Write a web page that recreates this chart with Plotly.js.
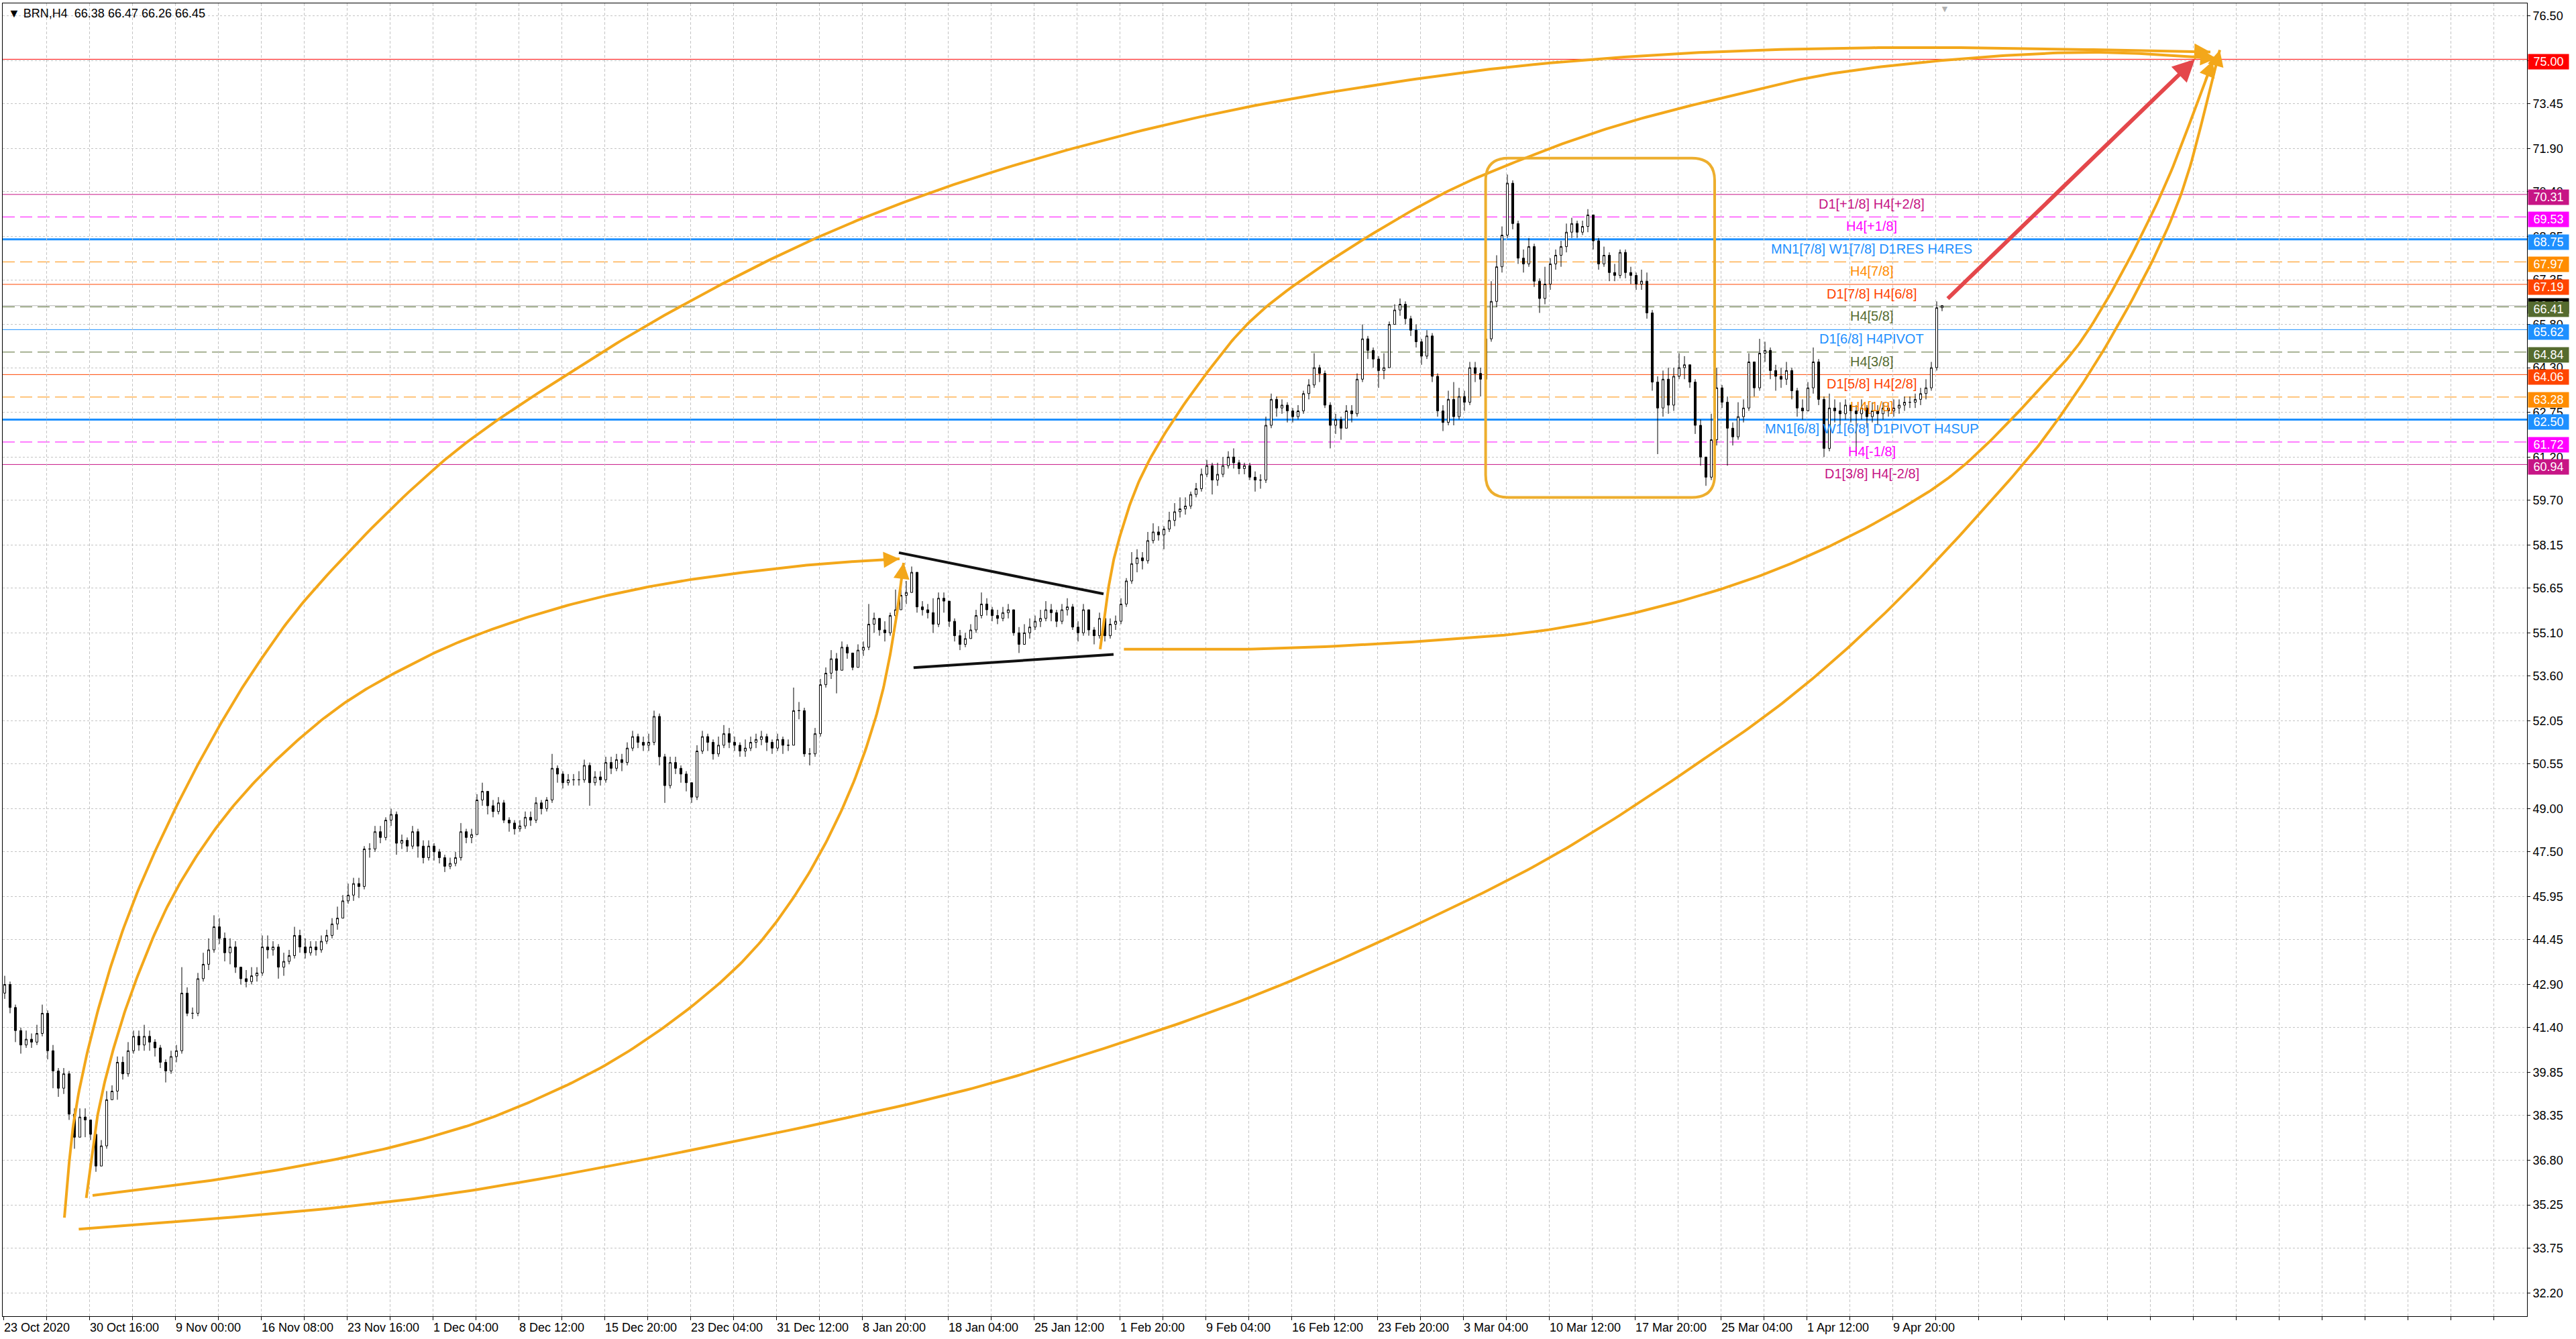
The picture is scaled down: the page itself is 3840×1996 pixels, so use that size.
<!DOCTYPE html>
<html>
<head>
<meta charset="utf-8">
<script src="https://cdn.plot.ly/plotly-3.0.1.min.js"></script>
<style>
  html, body { margin: 0; padding: 0; background: #fff; }
  #chart { width: 3840px; height: 1996px; }
</style>
</head>
<body>
<div id="chart"></div>
<script>
/* BRN,H4 – candles + Murrey levels + hand-drawn arcs (one candle = two H4 slots) */

const FONT = 'Liberation Sans, Arial, DejaVu Sans, sans-serif';

// ---- price data ----
const firstOpen = 42.6;
const closes = [
  42.9,42.1,41.3,40.8,41.0,40.9,41.2,41.9,40.6,39.9,
  39.3,39.8,38.4,37.6,38.3,38.2,37.7,36.6,37.3,38.9,
  39.2,40.2,39.8,40.6,41.1,40.8,41.1,40.9,40.7,40.2,
  39.9,40.4,40.6,42.6,41.9,41.9,43.1,43.6,44.1,44.9,
  44.5,44.0,44.2,43.5,43.1,43.0,43.2,43.3,44.2,44.1,
  44.2,43.5,43.7,43.9,44.6,44.2,44.0,44.2,44.1,44.4,
  44.6,45.0,45.2,45.8,46.0,46.4,46.3,47.6,47.6,48.2,
  48.0,48.6,48.8,47.8,47.9,47.7,48.2,47.7,47.3,47.7,
  47.5,47.3,47.0,47.1,47.3,48.2,48.0,48.1,49.3,49.6,
  49.1,48.9,49.2,48.6,48.5,48.3,48.4,48.7,48.6,49.2,
  49.0,49.3,50.4,50.2,49.9,50.0,50.0,50.0,50.5,49.9,
  50.1,50.0,50.6,50.4,50.7,50.6,51.1,51.5,51.3,51.2,
  51.3,52.2,50.8,49.8,50.6,50.4,50.2,49.9,49.4,51.0,
  51.5,51.3,50.9,51.2,51.6,51.3,51.2,51.0,51.1,51.3,
  51.4,51.5,51.3,51.1,51.4,51.2,51.2,52.4,52.4,50.9,
  50.9,51.6,53.3,53.7,54.2,53.8,54.6,54.4,53.9,54.5,
  54.6,55.4,55.6,55.2,55.1,55.7,55.9,56.4,56.5,57.2,
  56.0,55.9,55.8,55.4,56.3,56.2,55.5,55.0,54.7,54.9,
  55.2,55.7,56.1,55.9,55.7,55.6,55.8,55.9,55.1,54.7,
  55.1,55.3,55.5,55.6,55.9,55.8,55.5,55.9,56.0,55.3,
  55.1,55.9,55.2,55.0,55.6,55.0,55.4,55.5,56.1,56.9,
  57.5,57.7,57.6,58.3,58.6,58.5,58.7,59.0,59.3,59.4,
  59.5,59.9,60.1,60.6,60.9,60.4,60.6,60.9,61.2,61.0,
  60.8,60.9,60.5,60.4,60.4,62.3,63.2,62.9,63.0,62.8,
  62.6,62.8,63.4,63.7,64.3,64.1,63.0,62.3,62.5,62.2,
  62.8,62.7,63.9,65.3,64.9,64.6,64.2,64.3,65.8,66.3,
  66.5,66.0,65.6,65.2,64.7,65.4,64.0,62.8,62.4,63.2,
  62.6,63.3,63.1,64.3,64.1,63.9,65.3,66.6,67.8,68.9,
  70.7,69.3,68.1,67.9,68.5,67.3,66.7,67.2,67.9,68.2,
  68.5,69.0,69.3,69.0,69.2,69.6,68.7,67.9,68.2,67.6,
  67.5,68.3,67.6,67.5,67.2,67.3,66.2,63.8,62.9,63.9,
  63.0,64.0,64.3,64.4,63.8,62.3,61.2,60.5,61.8,63.6,
  63.1,62.2,61.9,62.6,62.9,64.5,63.6,64.8,64.9,64.2,
  64.0,63.9,64.2,63.5,62.9,62.8,63.6,64.5,63.2,61.5,
  62.9,62.8,62.7,63.0,62.8,62.7,62.9,62.6,62.8,62.7,
  62.9,62.8,62.9,63.0,63.1,63.1,63.2,63.4,63.6,64.3,66.38,66.45
];
const highs = [
  43.2,43.0,42.2,41.4,41.3,41.2,41.5,42.2,42.0,40.8,
  40.0,40.0,39.9,38.6,38.6,38.6,38.2,37.8,37.5,39.2,
  39.4,40.4,40.4,40.9,41.3,41.3,41.5,41.3,41.0,40.8,
  40.3,40.6,40.8,43.5,42.8,42.1,43.3,44.0,44.5,45.3,
  45.2,44.7,44.5,44.4,43.5,43.4,43.5,43.5,44.6,44.6,
  44.4,44.3,44.0,44.1,44.9,44.8,44.5,44.4,44.4,44.6,
  44.8,45.2,45.6,46.0,46.4,46.6,46.6,47.7,47.8,48.4,
  48.4,48.7,49.0,48.9,48.1,48.0,48.4,48.3,47.9,47.9,
  47.8,47.6,47.4,47.3,47.5,48.5,48.3,48.3,49.5,49.9,
  49.5,49.3,49.4,49.3,48.7,48.6,48.6,48.9,48.9,49.4,
  49.3,49.4,50.9,50.5,50.3,50.2,50.2,50.3,50.7,50.6,
  50.3,50.3,50.8,50.8,50.9,50.9,51.3,51.7,51.6,51.5,
  51.6,52.4,52.3,50.9,50.8,50.8,50.5,50.3,49.9,51.2,
  51.7,51.6,51.4,51.5,51.9,51.8,51.5,51.3,51.4,51.5,
  51.6,51.7,51.6,51.4,51.6,51.5,51.4,53.2,52.7,52.5,
  51.1,51.8,53.5,53.9,54.5,54.4,54.8,54.7,54.4,54.7,
  54.8,56.1,55.8,55.6,55.5,55.8,56.6,56.6,56.9,57.4,
  57.2,56.2,56.1,56.3,56.5,56.5,56.2,55.6,55.2,55.1,
  55.4,55.9,56.5,56.3,56.0,55.9,56.0,56.1,55.9,55.3,
  55.4,55.6,55.7,55.9,56.2,56.1,55.9,56.1,56.3,56.1,
  55.5,56.1,55.9,55.3,55.8,55.6,55.6,55.7,56.3,57.0,
  57.9,58.0,57.9,58.6,58.9,58.8,58.8,59.3,59.6,59.8,
  59.8,60.0,60.3,60.8,61.1,61.0,61.0,61.2,61.4,61.5,
  61.1,61.0,61.0,60.7,60.6,62.6,63.4,63.3,63.2,63.1,
  62.9,63.0,63.5,63.9,64.8,64.4,64.2,63.1,62.7,62.6,
  63.0,63.0,64.1,65.8,65.4,65.0,64.7,64.8,65.9,66.5,
  66.7,66.6,66.1,65.8,65.3,65.6,65.5,64.1,63.0,63.5,
  63.8,63.6,63.5,64.5,64.5,64.3,65.5,67.3,68.2,69.2,
  71.0,70.8,69.4,68.4,68.8,68.6,67.4,67.8,68.1,68.4,
  68.7,69.3,69.5,69.4,69.4,69.8,69.6,68.8,68.5,68.3,
  67.9,68.4,68.4,67.8,67.6,67.7,67.6,66.3,64.0,64.2,
  64.3,64.3,64.8,64.7,64.3,63.9,62.5,61.0,62.7,64.3,
  63.7,63.3,62.4,63.1,63.2,64.8,64.5,65.3,65.2,65.0,
  64.4,64.3,64.5,64.3,63.6,63.2,63.8,65.0,64.6,63.3,
  63.4,63.2,63.1,63.2,63.0,63.0,63.2,63.0,63.1,63.0,
  63.1,63.1,63.2,63.2,63.3,63.3,63.4,63.6,63.9,64.5,66.6,66.47
];
const lows = [
  42.4,41.9,40.9,40.5,40.7,40.7,40.8,41.1,40.3,39.3,
  39.0,39.1,38.2,37.2,37.6,37.6,37.5,36.4,36.6,37.2,
  38.9,38.9,39.6,39.7,40.5,40.6,40.6,40.6,40.4,40.0,
  39.5,39.8,40.2,40.5,41.8,41.7,41.8,43.0,43.4,44.0,
  44.3,43.7,43.6,43.3,42.9,42.8,42.9,43.0,43.2,43.8,
  43.9,43.1,43.2,43.6,43.8,44.0,43.8,43.9,43.9,44.0,
  44.3,44.5,44.8,45.2,45.7,45.8,45.9,46.2,47.3,47.5,
  47.8,47.9,48.4,47.4,47.6,47.5,47.6,47.3,47.1,47.2,
  47.2,47.1,46.8,46.9,47.0,47.2,47.8,47.8,48.1,49.1,
  48.8,48.7,48.8,48.5,48.2,48.1,48.2,48.3,48.4,48.5,
  48.8,48.9,49.2,49.9,49.7,49.8,49.8,49.8,49.9,49.1,
  49.8,49.8,49.9,50.2,50.3,50.3,50.5,51.0,51.1,51.0,
  51.0,51.2,50.5,49.2,49.7,50.2,49.9,49.6,49.2,49.3,
  50.9,51.0,50.7,50.8,51.1,51.1,51.0,50.8,50.8,51.0,
  51.1,51.2,51.0,50.9,51.0,50.9,51.0,51.2,52.1,50.8,
  50.5,50.8,51.5,53.2,53.5,53.0,53.8,54.2,53.8,53.9,
  54.3,54.5,55.1,55.0,54.8,55.0,55.6,56.0,56.1,56.6,
  55.8,55.7,55.6,55.1,55.3,55.8,55.3,54.8,54.5,54.6,
  54.9,55.1,55.6,55.7,55.5,55.4,55.5,55.6,55.0,54.4,
  54.7,54.9,55.2,55.3,55.5,55.5,55.3,55.4,55.7,55.2,
  54.8,55.0,55.0,54.7,54.9,54.8,54.9,55.2,55.4,56.0,
  56.8,57.2,57.3,57.5,58.2,58.3,58.0,58.6,58.8,59.1,
  59.2,59.4,59.8,60.0,60.5,59.9,60.2,60.5,60.8,60.8,
  60.6,60.6,60.4,60.0,60.1,60.3,62.2,62.6,62.7,62.4,
  62.4,62.5,62.7,63.2,63.6,63.8,62.9,61.5,62.0,61.8,
  62.5,62.4,62.6,63.8,64.6,64.3,63.6,63.9,64.3,65.8,
  66.1,65.8,65.4,65.0,64.4,64.6,63.8,62.6,62.1,62.3,
  62.3,62.5,62.8,63.0,63.8,63.3,63.6,65.2,66.4,67.6,
  68.8,69.1,67.9,67.6,67.8,67.1,66.2,66.5,67.0,67.7,
  67.8,68.3,68.8,68.8,68.9,69.0,68.4,67.7,67.8,67.3,
  67.3,67.4,67.4,67.2,67.0,67.0,66.0,63.5,61.3,62.6,
  62.7,62.8,63.9,63.9,63.6,62.0,60.9,60.2,60.4,61.6,
  62.9,60.9,61.6,61.8,62.4,62.8,63.3,63.5,64.5,63.9,
  63.5,63.6,63.7,63.2,62.6,62.5,63.0,63.4,63.0,61.2,
  61.4,62.4,62.3,62.5,62.4,61.3,62.5,62.2,62.4,62.3,
  62.5,62.6,62.6,62.7,62.8,62.9,62.9,63.0,63.2,63.5,64.2,66.26
];

// time labels, one every 32 H4 slots
const xTickLabels = [
  '23 Oct 2020','30 Oct 16:00','9 Nov 00:00','16 Nov 08:00','23 Nov 16:00','1 Dec 04:00',
  '8 Dec 12:00','15 Dec 20:00','23 Dec 04:00','31 Dec 12:00','8 Jan 20:00','18 Jan 04:00',
  '25 Jan 12:00','1 Feb 20:00','9 Feb 04:00','16 Feb 12:00','23 Feb 20:00','3 Mar 04:00',
  '10 Mar 12:00','17 Mar 20:00','25 Mar 04:00','1 Apr 12:00','9 Apr 20:00'
];
const yTickVals = [76.50,74.95,73.45,71.90,70.40,68.85,67.35,65.80,64.30,62.75,61.20,59.70,58.15,
  56.65,55.10,53.60,52.05,50.55,49.00,47.50,45.95,44.45,42.90,41.40,39.85,38.35,36.80,35.25,33.75,32.20];

// Murrey / pivot levels
const levelPrices = [70.31,69.53,68.75,67.97,67.19,66.41,65.62,64.84,64.06,63.28,62.50,61.72,60.94];
const levelNames = ['D1[+1/8] H4[+2/8]','H4[+1/8]','MN1[7/8] W1[7/8] D1RES H4RES','H4[7/8]',
  'D1[7/8] H4[6/8]','H4[5/8]','D1[6/8] H4PIVOT','H4[3/8]','D1[5/8] H4[2/8]','H4[1/8]',
  'MN1[6/8] W1[6/8] D1PIVOT H4SUP','H4[-1/8]','D1[3/8] H4[-2/8]'];
const levelColors = ['#C71585','#FF00FF','#1E90FF','#FF8C00','#FF4500','#556B2F','#1E90FF',
  '#556B2F','#FF4500','#FF8C00','#1E90FF','#FF00FF','#C71585'];
const levelDashed = [false,true,false,true,false,true,false,true,false,true,false,true,false];
const levelThick = [false,false,true,false,false,false,false,false,false,false,true,false,false];

const targetPrice = 75.00;
const lastPrice = 66.45;
const headerText = 'BRN,H4\u00a0\u00a066.38 66.47 66.26 66.45';

// ---- drawings, in (H4 slot, price) ----
const arcA = { x: [22.75,26.6,35,47.25,64.25,81.25,94.5,113.5,164.5,210.5,253.75,302.25,345.75,398.75,462.9,545.75,591.5,643.25,709.75,767.25,822.5],
               y: [34.81,38.35,41.91,45.47,49.03,51.99,53.97,56.35,61.1,64.09,66.5,68.77,70.38,71.91,73.33,74.56,74.99,75.28,75.41,75.35,75.25] };
const arcB = { x: [30.9,35.1,41.2,49.65,63,81.15,101.75,126,150.25,173.75,210.15,246.5,283,307.25,334],
               y: [35.49,38.35,40.72,43.1,45.94,48.56,50.69,52.59,53.92,54.93,56.05,56.8,57.28,57.51,57.67] };
const arcC = { x: [33.25,71.5,119.9,156.25,188.75,231.25,273.25,295,313.25,325.5,331.5,335.5],
               y: [35.58,36.02,36.76,37.53,38.53,40.48,43.49,45.99,49.12,52.29,54.87,57.53] };
const arcD = { x: [28.1,124.75,188.75,348.75,399.75,463.5,527.25,578.25,629.25,667.6,705.9,748.75,761.25,784.5,810.25,826],
               y: [34.41,35.16,35.97,39.0,40.37,42.41,45.0,47.4,50.43,53.0,56.21,60.52,61.94,65.19,69.98,75.32] };
const arcE = { x: [408.75,411.25,415,425.25,449.25,469.9,531.25,566.5,601.75,643.25,681.25,738.5,781.5,824.75],
               y: [54.53,56.32,58.08,60.76,64.21,66.35,70.08,71.55,72.71,73.72,74.5,75.08,75.24,75.03] };
const arcF = { x: [417.6,463.5,527.25,578.25,629.25,667.6,705.9,728.75,761.25,775.75,803,823.5],
               y: [54.53,54.53,54.8,55.24,56.31,57.56,59.34,60.76,63.8,65.42,70.08,74.95] };
const arcs = [arcA, arcB, arcC, arcD, arcE, arcF];
// arrow heads at the last point of each arc: tail offset in px
const arcHeads = [[-30,-1],[-30,2],[-4,30],[-8,30],[-30,-2],[-12,30]];

const triUpper = [333.75, 57.88, 410, 56.45];
const triLower = [339.2, 53.89, 413.75, 54.35];
const rectBox = { x0: 552.4, x1: 637.75, y0: 59.8, y1: 71.57, rx: 8.5, ry: 0.78 };
const redArrow = { x0: 724.25, y0: 66.66, x1: 816.75, y1: 75.0 };

// ---- helpers ----
// centripetal Catmull-Rom through the drawing's points, worked out in screen proportions
function smoothPath(xs, ys) {
  const SX = 4, SY = 42.96, STEPS = 24;
  const P = xs.map((x, i) => [x * SX, ys[i] * SY]);
  const n = P.length;
  const pts = [[2 * P[0][0] - P[1][0], 2 * P[0][1] - P[1][1]], ...P,
               [2 * P[n - 1][0] - P[n - 2][0], 2 * P[n - 1][1] - P[n - 2][1]]];
  const knot = (a, b) => Math.pow(Math.hypot(b[0] - a[0], b[1] - a[1]), 0.5) || 1e-6;
  const mix = (a, b, ta, tb, t) => [((tb - t) * a[0] + (t - ta) * b[0]) / (tb - ta),
                                    ((tb - t) * a[1] + (t - ta) * b[1]) / (tb - ta)];
  const ox = [], oy = [];
  for (let i = 1; i < pts.length - 2; i++) {
    const p0 = pts[i - 1], p1 = pts[i], p2 = pts[i + 1], p3 = pts[i + 2];
    const t0 = 0, t1 = t0 + knot(p0, p1), t2 = t1 + knot(p1, p2), t3 = t2 + knot(p2, p3);
    for (let k = 0; k < STEPS; k++) {
      const t = t1 + (t2 - t1) * k / STEPS;
      const a1 = mix(p0, p1, t0, t1, t), a2 = mix(p1, p2, t1, t2, t), a3 = mix(p2, p3, t2, t3, t);
      const b1 = mix(a1, a2, t0, t2, t), b2 = mix(a2, a3, t1, t3, t);
      const c = mix(b1, b2, t1, t2, t);
      ox.push(c[0] / SX); oy.push(c[1] / SY);
    }
  }
  ox.push(xs[n - 1]); oy.push(ys[n - 1]);
  return { x: ox, y: oy };
}

// ---- build ----
const barX = closes.map((c, i) => 2 * i + 0.5);
const opens = closes.map((c, i) => (i === 0 ? firstOpen : closes[i - 1]));
const hi = highs.map((h, i) => Math.max(h, opens[i], closes[i]));
const lo = lows.map((l, i) => Math.min(l, opens[i], closes[i]));

const ORANGE = '#F3A71A';

const data = [{
  type: 'candlestick', x: barX, open: opens, high: hi, low: lo, close: closes,
  increasing: { line: { color: '#000', width: 1 }, fillcolor: '#fff' },
  decreasing: { line: { color: '#000', width: 1 }, fillcolor: '#000' },
  whiskerwidth: 0, hoverinfo: 'skip', showlegend: false
}];
arcs.forEach(a => {
  const s = smoothPath(a.x, a.y);
  data.push({
    type: 'scatter', mode: 'lines', x: s.x, y: s.y,
    line: { color: ORANGE, width: 4 }, hoverinfo: 'skip', showlegend: false
  });
});

const shapes = [];
shapes.push({ type: 'line', xref: 'paper', x0: 0, x1: 1, yref: 'y', y0: targetPrice, y1: targetPrice,
  line: { color: '#FF0000', width: 1 }, layer: 'between' });
shapes.push({ type: 'line', xref: 'paper', x0: 0, x1: 1, yref: 'y', y0: lastPrice, y1: lastPrice,
  line: { color: '#B8B8B8', width: 1 }, layer: 'between' });
levelPrices.forEach((p, i) => shapes.push({
  type: 'line', xref: 'paper', x0: 0, x1: 1, yref: 'y', y0: p, y1: p, layer: 'between',
  line: { color: levelColors[i], width: levelThick[i] ? 3 : 1, dash: levelDashed[i] ? '18px,8px' : 'solid' }
}));

const r = rectBox;
const rectPath = `M${r.x0 + r.rx},${r.y1} L${r.x1 - r.rx},${r.y1} Q${r.x1},${r.y1} ${r.x1},${r.y1 - r.ry} ` +
  `L${r.x1},${r.y0 + r.ry} Q${r.x1},${r.y0} ${r.x1 - r.rx},${r.y0} L${r.x0 + r.rx},${r.y0} ` +
  `Q${r.x0},${r.y0} ${r.x0},${r.y0 + r.ry} L${r.x0},${r.y1 - r.ry} Q${r.x0},${r.y1} ${r.x0 + r.rx},${r.y1} Z`;
shapes.push({ type: 'path', xref: 'x', yref: 'y', path: rectPath, line: { color: '#EDAE2E', width: 4 } });
[triUpper, triLower].forEach(t => shapes.push({
  type: 'line', xref: 'x', yref: 'y', x0: t[0], y0: t[1], x1: t[2], y1: t[3],
  line: { color: '#111', width: 4 }
}));

const annotations = [];
annotations.push({ xref: 'paper', yref: 'paper', x: 0, y: 1, xanchor: 'left', yanchor: 'top',
  xshift: 6, yshift: -3, showarrow: false, text: '\u25BC ' + headerText,
  font: { family: FONT, size: 18, color: '#000' } });
annotations.push({ xref: 'x', yref: 'paper', x: 723.5, y: 1, xanchor: 'center', yanchor: 'top',
  yshift: 2, showarrow: false, text: '\u25BC', font: { family: FONT, size: 14, color: '#B0B0B0' } });

// level captions
levelPrices.forEach((p, i) => annotations.push({
  xref: 'x', yref: 'y', x: 696.25, y: p, xanchor: 'center', yanchor: 'top', yshift: -1,
  showarrow: false, text: levelNames[i], font: { family: FONT, size: 20, color: levelColors[i] }
}));

// price boxes on the right scale
function priceBox(p, color, shift) {
  return { xref: 'paper', yref: 'y', x: 1, y: p, xanchor: 'left', yanchor: 'middle', xshift: 1, yshift: shift,
    showarrow: false, text: p.toFixed(2), bgcolor: color, width: 58, height: 20, borderpad: 1, align: 'center',
    font: { family: FONT, size: 18, color: '#fff' } };
}
annotations.push(priceBox(lastPrice, '#000', 0));
annotations.push(priceBox(targetPrice, '#FF0000', -4));
levelPrices.forEach((p, i) => annotations.push(priceBox(p, levelColors[i], -4)));

// arrow heads of the arcs
arcs.forEach((a, i) => annotations.push({
  xref: 'x', yref: 'y', x: a.x[a.x.length - 1], y: a.y[a.y.length - 1], text: '', showarrow: true,
  ax: arcHeads[i][0], ay: arcHeads[i][1], arrowhead: 2, arrowsize: 1.6, arrowwidth: 3, arrowcolor: ORANGE, standoff: 0
}));
annotations.push({
  xref: 'x', yref: 'y', x: redArrow.x1, y: redArrow.y1, axref: 'x', ayref: 'y', ax: redArrow.x0, ay: redArrow.y0,
  text: '', showarrow: true, arrowhead: 2, arrowsize: 1.1, arrowwidth: 6, arrowcolor: '#E4474B', standoff: 0
});

// x ticks every 16 slots (grid), labelled every 32
const xTickVals = [], xTickText = [];
for (let s = 0; s <= 928; s += 16) {
  xTickVals.push(s);
  xTickText.push(s % 32 === 0 && xTickLabels[s / 32] ? xTickLabels[s / 32] : '');
}

const layout = {
  width: 3840, height: 1996,
  margin: { l: 4, r: 73, t: 5, b: 34 },
  paper_bgcolor: '#fff', plot_bgcolor: '#fff',
  showlegend: false, hovermode: false, dragmode: false,
  boxgap: 0.45,
  font: { family: FONT, color: '#000' },
  xaxis: {
    type: 'linear', range: [-0.25, 940.5], rangeslider: { visible: false },
    tickmode: 'array', tickvals: xTickVals, ticktext: xTickText,
    ticks: 'outside', ticklen: 5, tickcolor: '#000', ticklabelposition: 'outside right',
    tickfont: { family: FONT, size: 18, color: '#000' },
    showgrid: true, gridcolor: '#C4C4C4', gridwidth: 1, griddash: '4px,3px',
    showline: true, linecolor: '#000', linewidth: 1, mirror: true, zeroline: false
  },
  yaxis: {
    side: 'right', range: [31.39, 76.94],
    tickmode: 'array', tickvals: yTickVals, ticktext: yTickVals.map(v => v.toFixed(2)),
    ticks: 'outside', ticklen: 4, tickcolor: '#000',
    tickfont: { family: FONT, size: 18, color: '#000' },
    showgrid: true, gridcolor: '#C4C4C4', gridwidth: 1, griddash: '3px,3px',
    showline: true, linecolor: '#000', linewidth: 1, mirror: true, zeroline: false
  },
  shapes, annotations
};

Plotly.newPlot('chart', data, layout, { displayModeBar: false, staticPlot: true });
</script>
</body>
</html>
